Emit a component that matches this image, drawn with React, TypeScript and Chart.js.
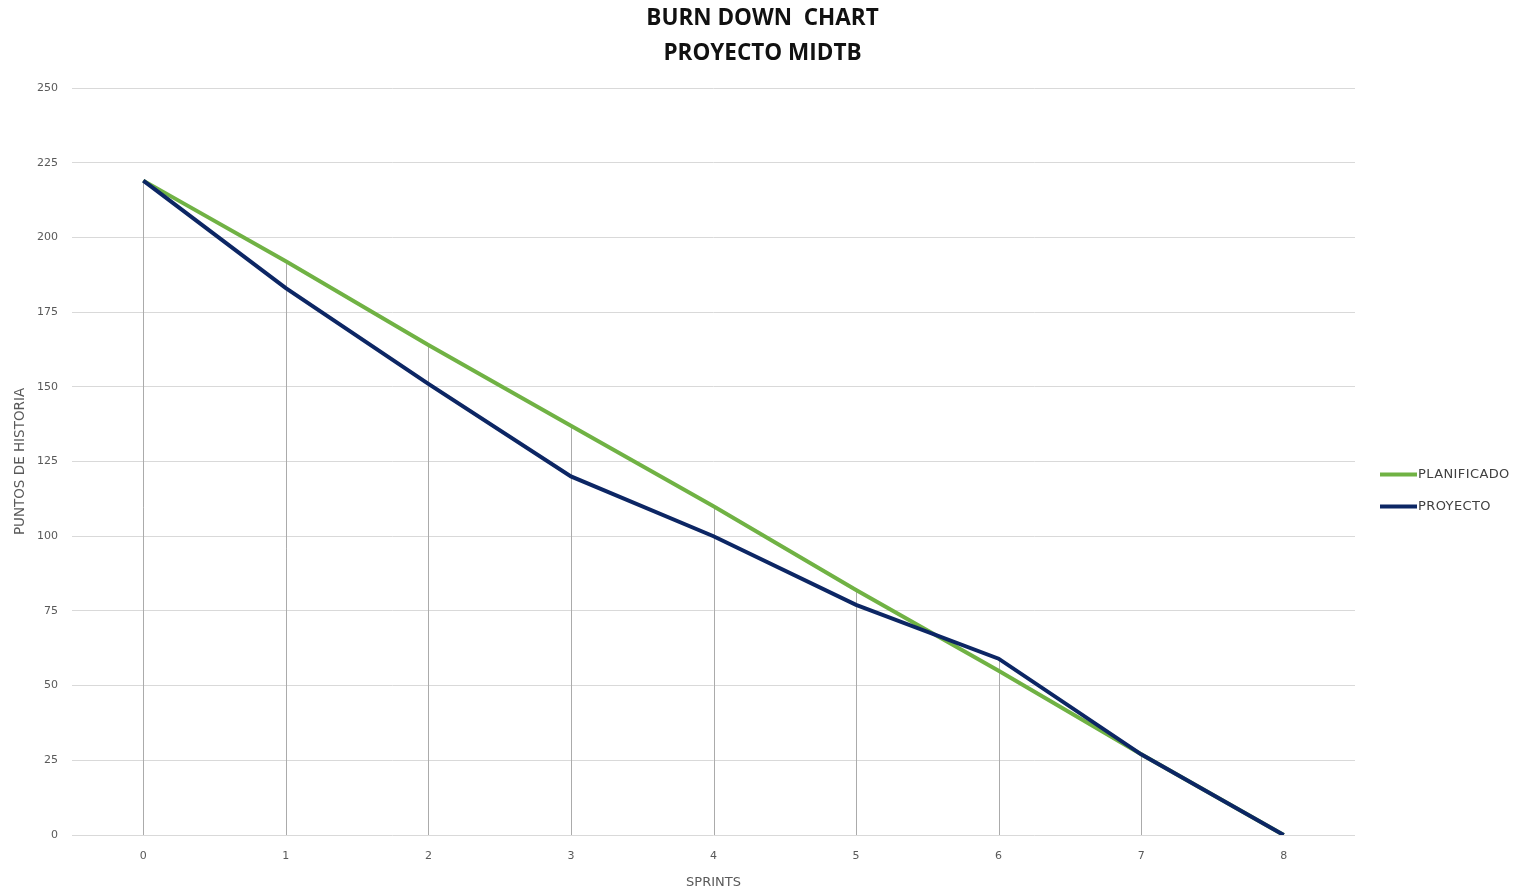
import React, { useEffect, useRef } from "react";
import { Chart, registerables } from "chart.js";

Chart.register(...registerables);

const sprints = ["0", "1", "2", "3", "4", "5", "6", "7", "8"];
const planificado = [219, 192, 164, 137, 110, 82, 55, 27, 0];
const proyecto = [219, 183, 151, 120, 100, 77, 59, 27, 0];
const titleLines = ["BURN DOWN  CHART", "PROYECTO MIDTB"];
const yTitle = "PUNTOS DE HISTORIA";
const xTitle = "SPRINTS";

const GREEN = "#70b244";
const NAVY = "#0c2664";
const TEXT = "#595959";
const FONT = "'DejaVu Sans', Verdana, sans-serif";

const dropLines = {
  id: "dropLines",
  beforeDatasetsDraw(chart: any) {
    const { ctx, scales } = chart;
    const xs = scales.x;
    const ys = scales.y;
    ctx.save();
    ctx.strokeStyle = "#ababab";
    ctx.lineWidth = 1;
    sprints.forEach((_, i) => {
      const top = Math.max(planificado[i], proyecto[i]);
      const x = Math.round(xs.getPixelForValue(i)) + 0.5;
      ctx.beginPath();
      ctx.moveTo(x, ys.getPixelForValue(top));
      ctx.lineTo(x, ys.getPixelForValue(0));
      ctx.stroke();
    });
    ctx.restore();
  },
};

const titlePlugin = {
  id: "pageTitle",
  afterDraw(chart: any) {
    const { ctx, width } = chart;
    ctx.save();
    ctx.font = `bold 22.5px 'Open Sans', sans-serif`;
    ctx.fillStyle = "#111";
    ctx.textAlign = "center";
    ctx.textBaseline = "middle";
    titleLines.forEach((t, k) => {
      ctx.fillText(t, width / 2 + 4, 19 + k * 35);
    });
    ctx.restore();
  },
};

const customLegend = {
  id: "customLegend",
  afterDraw(chart: any) {
    const { ctx, chartArea } = chart;
    const items = [
      { label: "PLANIFICADO", color: GREEN },
      { label: "PROYECTO", color: NAVY },
    ];
    ctx.save();
    ctx.font = `13px ${FONT}`;
    (ctx as any).letterSpacing = "0.4px";
    ctx.fillStyle = "#404040";
    ctx.textBaseline = "middle";
    const x0 = chartArea.right + 25;
    const yc = (chartArea.top + chartArea.bottom) / 2 + 29;
    items.forEach((it, k) => {
      const y = yc - 16 + k * 32;
      ctx.strokeStyle = it.color;
      ctx.lineWidth = 4;
      ctx.beginPath();
      ctx.moveTo(x0, y);
      ctx.lineTo(x0 + 37, y);
      ctx.stroke();
      ctx.fillText(it.label, x0 + 38, y);
    });
    ctx.restore();
  },
};

export default function App() {
  const ref = useRef<HTMLCanvasElement>(null);
  useEffect(() => {
    if (!ref.current) return;
    const chart = new Chart(ref.current, {
      type: "line",
      data: {
        labels: sprints,
        datasets: [
          {
            label: "PROYECTO",
            data: proyecto,
            borderColor: NAVY,
            backgroundColor: NAVY,
            borderWidth: 4,
            pointRadius: 0,
            tension: 0,
          },
          {
            label: "PLANIFICADO",
            data: planificado,
            borderColor: GREEN,
            backgroundColor: GREEN,
            borderWidth: 4,
            pointRadius: 0,
            tension: 0,
          },
        ],
      },
      options: {
        animation: false,
        responsive: false,
        maintainAspectRatio: false,
        layout: { padding: { left: 0, right: 162, top: 88, bottom: 0 } },
        plugins: {
          legend: { display: false },
          tooltip: { enabled: false },
          title: { display: false },
        },
        scales: {
          x: {
            offset: true,
            grid: { display: false, drawTicks: false },
            border: { display: false },
            ticks: { color: TEXT, font: { family: FONT, size: 11 }, padding: 15 },
            title: {
              display: true,
              text: xTitle,
              color: TEXT,
              font: { family: FONT, size: 13 },
              padding: { top: 3, bottom: 0 },
            },
            afterFit(scale: any) {
              scale.height = 55;
            },
          },
          y: {
            min: 0,
            max: 250,
            ticks: { stepSize: 25, color: TEXT, font: { family: FONT, size: 11 }, padding: 14 },
            grid: { color: "#d9d9d9", drawTicks: false, lineWidth: 1 },
            border: { display: false },
            title: {
              display: true,
              text: yTitle,
              color: TEXT,
              font: { family: FONT, size: 13.5 },
              padding: { top: 12, bottom: 0 },
            },
            afterFit(scale: any) {
              scale.width = 72;
            },
          },
        },
      },
      plugins: [dropLines, customLegend, titlePlugin],
    });
    return () => chart.destroy();
  }, []);
  return (
    <div style={{ position: "absolute", left: 0, top: 0, width: 1517, height: 890, background: "#fff" }}>
      <canvas ref={ref} width={1517} height={890} style={{ display: "block" }} />
    </div>
  );
}
